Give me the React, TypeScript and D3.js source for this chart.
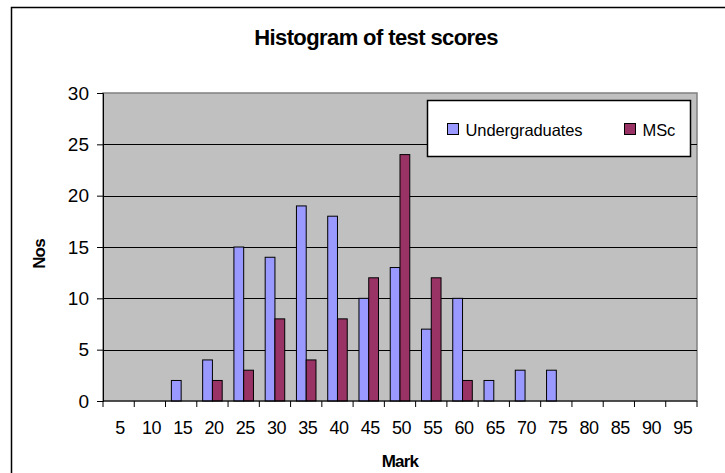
import React, { useEffect, useRef } from 'react'
import * as d3 from 'd3'

const marks = ['5', '10', '15', '20', '25', '30', '35', '40', '45', '50', '55', '60', '65', '70', '75', '80', '85', '90', '95']
const undergraduates = [0, 0, 2, 4, 15, 14, 19, 18, 10, 13, 7, 10, 2, 3, 3, 0, 0, 0, 0]
const msc = [0, 0, 0, 2, 3, 8, 4, 8, 12, 24, 12, 2, 0, 0, 0, 0, 0, 0, 0]
const seriesNames = ['Undergraduates', 'MSc']
const seriesColors = ['#9999FF', '#993366']
const yTicks = [0, 5, 10, 15, 20, 25, 30]

const App = () => {
  const ref = useRef<SVGSVGElement>(null)

  useEffect(() => {
    const svg = d3.select(ref.current)
    svg.selectAll('*').remove()

    const W = 725, H = 473
    const margin = { top: 93, right: 28, bottom: 72, left: 103 }
    const width = W - margin.left - margin.right
    const height = H - margin.top - margin.bottom
    const font = 'Liberation Sans, Arial, sans-serif'

    // outer chart border (runs off the right and bottom edge)
    svg.append('path')
      .attr('d', `M11.5,${H} V7.5 H${W}`)
      .attr('fill', 'none')
      .attr('stroke', '#000')
      .attr('stroke-width', 1.5)

    svg.append('text')
      .attr('x', 376).attr('y', 45)
      .attr('text-anchor', 'middle')
      .style('font-family', font).style('font-weight', 'bold').style('font-size', '22px')
      .style('letter-spacing', '-0.6px')
      .text('Histogram of test scores')

    const g = svg.append('g').attr('transform', `translate(${margin.left},${margin.top})`)

    const x = d3.scaleBand().domain(marks).range([0, width]).paddingInner(0).paddingOuter(0)
    const xSub = d3.scaleBand().domain(seriesNames).range([0, x.bandwidth()]).paddingInner(0).paddingOuter(0.6)
    const y = d3.scaleLinear().domain([0, 30]).range([height, 0])

    // plot area
    g.append('rect')
      .attr('width', width).attr('height', height)
      .attr('fill', '#C0C0C0')
      .attr('stroke', '#808080')
      .attr('stroke-width', 1.5)

    // gridlines
    g.append('g')
      .selectAll('line')
      .data(yTicks.filter(t => t > 0 && t < 30))
      .enter().append('line')
      .attr('x1', 0).attr('x2', width)
      .attr('y1', d => Math.round(y(d)) + 0.5).attr('y2', d => Math.round(y(d)) + 0.5)
      .attr('stroke', '#000').attr('stroke-width', 1)

    // bars
    const rows = marks.map((m, i) => ({ mark: m, values: [undergraduates[i], msc[i]] }))
    g.append('g')
      .selectAll('g')
      .data(rows)
      .enter().append('g')
      .attr('transform', d => `translate(${x(d.mark)},0)`)
      .selectAll('rect')
      .data(d => d.values.map((v, k) => ({ key: seriesNames[k], value: v, color: seriesColors[k] })).filter(e => e.value > 0))
      .enter().append('rect')
      .attr('x', d => xSub(d.key) as number)
      .attr('y', d => y(d.value))
      .attr('width', xSub.bandwidth())
      .attr('height', d => height - y(d.value))
      .attr('fill', d => d.color)
      .attr('stroke', '#000')
      .attr('stroke-width', 1)

    // y axis
    const yAxis = g.append('g')
      .call(d3.axisLeft(y).tickValues(yTicks).tickSize(6).tickFormat(d3.format('d')))
    yAxis.select('.domain').attr('stroke', '#000')
    yAxis.selectAll('text')
      .attr('x', -14)
      .style('font-family', font).style('font-size', '19px').attr('fill', '#000')

    // x axis: ticks at band boundaries
    const xAxis = g.append('g').attr('transform', `translate(0,${height})`)
    xAxis.append('line').attr('x1', 0).attr('x2', width).attr('stroke', '#000')
    xAxis.selectAll('line.tick')
      .data(d3.range(marks.length + 1))
      .enter().append('line')
      .attr('class', 'tick')
      .attr('x1', i => i * x.step()).attr('x2', i => i * x.step())
      .attr('y1', 0).attr('y2', 6)
      .attr('stroke', '#000')
    xAxis.selectAll('text')
      .data(marks)
      .enter().append('text')
      .attr('x', d => (x(d) as number) + x.bandwidth() / 2 + 1.5)
      .attr('y', 33)
      .attr('text-anchor', 'middle')
      .style('font-family', font).style('font-size', '18px')
      .style('letter-spacing', '-0.5px')
      .text(d => d)

    svg.append('text')
      .attr('x', margin.left + width / 2).attr('y', 467)
      .attr('text-anchor', 'middle')
      .style('font-family', font).style('font-weight', 'bold').style('font-size', '17px')
      .style('letter-spacing', '-0.8px')
      .text('Mark')

    svg.append('text')
      .attr('transform', 'translate(45,254) rotate(-90)')
      .attr('text-anchor', 'middle')
      .style('font-family', font).style('font-weight', 'bold').style('font-size', '17px')
      .style('letter-spacing', '-0.8px')
      .text('Nos')

    // legend
    const legend = svg.append('g').attr('transform', 'translate(427.5,100.5)')
    legend.append('rect')
      .attr('width', 263).attr('height', 56)
      .attr('fill', '#fff').attr('stroke', '#000').attr('stroke-width', 1.5)
    const items = [{ x: 20, name: seriesNames[0], color: seriesColors[0] }, { x: 197, name: seriesNames[1], color: seriesColors[1] }]
    items.forEach(it => {
      legend.append('rect')
        .attr('x', it.x).attr('y', 23).attr('width', 11).attr('height', 11)
        .attr('fill', it.color).attr('stroke', '#000')
      legend.append('text')
        .attr('x', it.x + 18).attr('y', 35)
        .style('font-family', font).style('font-size', '16.5px')
        .style('letter-spacing', '-0.1px')
        .text(it.name)
    })
  }, [])

  return (
    <svg ref={ref} width={725} height={473}
      style={{ position: 'absolute', left: 0, top: 0, background: '#fff' }} />
  )
}

export default App
